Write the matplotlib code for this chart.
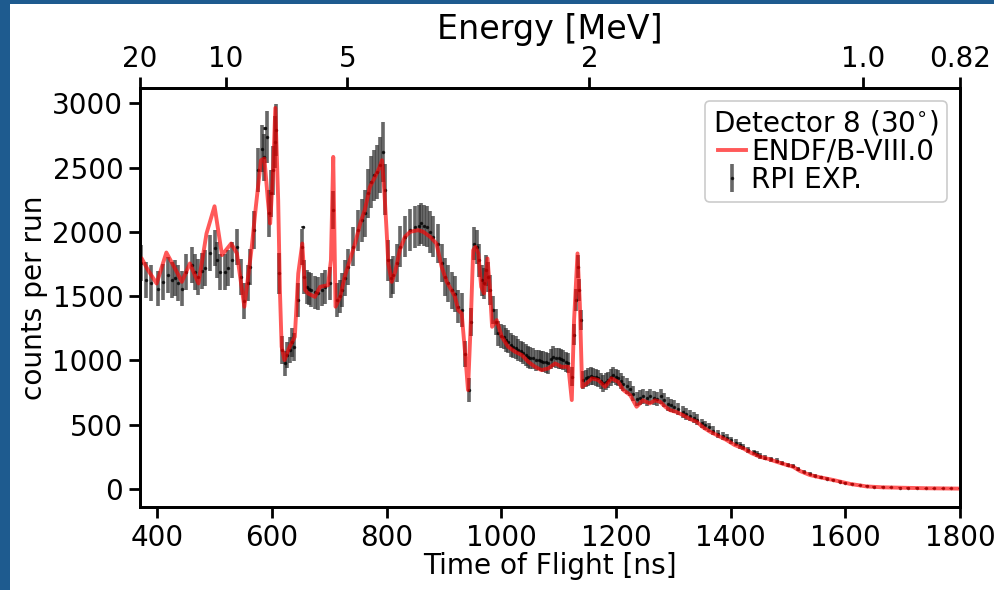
import numpy as np
import matplotlib
matplotlib.use('Agg')
import matplotlib.pyplot as plt
from matplotlib.patches import Rectangle

# ENDF/B-VIII.0 calculated curve (time of flight [ns], counts per run)
endf_t = [370, 373, 384, 399, 416, 431, 443, 457, 472, 486, 500, 513, 529, 539, 552, 565,
          572, 581, 587, 593, 597, 602, 606, 611, 614, 617, 622, 631, 640, 646, 653, 658,
          663, 675, 684, 698, 703, 707, 711, 719, 727, 736, 745, 754, 762, 771, 780, 788,
          792, 796, 800, 803, 809, 815, 823, 832, 841, 855, 864, 876, 887, 896, 905, 913,
          919, 925, 931, 937, 942, 947, 951, 955, 960, 965, 970, 976, 980, 984, 992, 1001,
          1012, 1024, 1036, 1047, 1059, 1070, 1082, 1094, 1105, 1117, 1123, 1127, 1133, 1137, 1141, 1149,
          1158, 1169, 1181, 1192, 1204, 1213, 1225, 1236, 1247, 1259, 1268, 1277, 1286, 1294, 1305, 1317,
          1329, 1341, 1352, 1364, 1378, 1393, 1407, 1422, 1436, 1451, 1465, 1480, 1492, 1509, 1521, 1538,
          1556, 1579, 1608, 1637, 1665, 1695, 1740, 1800]
endf_c = [1800, 1794, 1703, 1599, 1840, 1716, 1612, 1755, 1599, 1988, 2200, 1820, 1910, 1833, 1418, 1885,
          2195, 2558, 2571, 2247, 2066, 2455, 2965, 2247, 1547, 1107, 1003, 1107, 1184, 1677, 1910, 1547,
          1522, 1495, 1573, 1586, 1781, 2584, 1418, 1495, 1651, 1781, 1910, 2066, 2170, 2351, 2429, 2506,
          2558, 2325, 2014, 1755, 1612, 1690, 1858, 1962, 2001, 2014, 2001, 1962, 1910, 1729, 1612, 1547,
          1500, 1392, 1366, 1055, 770, 1314, 1858, 1884, 1833, 1573, 1522, 1794, 1573, 1262, 1314, 1184,
          1107, 1068, 1042, 990, 951, 925, 938, 977, 951, 951, 692, 1314, 1833, 1444, 795, 822,
          861, 848, 795, 861, 834, 770, 730, 640, 690, 666, 690, 679, 640, 614, 600, 575,
          545, 523, 480, 446, 415, 381, 342, 316, 280, 251, 235, 212, 195, 173, 140, 109,
          91, 70, 40, 20, 13, 10, 6, 3]

# RPI experimental data (time of flight [ns], counts per run, uncertainty)
exp_t = [372, 381, 390, 402, 411, 419, 425, 431, 437, 443, 451, 460, 466, 472, 478, 483,
         492, 500, 505, 510, 518, 524, 530, 539, 546, 552, 558, 562, 569, 576, 582, 586,
         588, 591, 595, 599, 602, 606, 608, 612, 617, 623, 627, 631, 635, 639, 646, 652,
         655, 656, 661, 665, 669, 675, 681, 687, 693, 701, 707, 713, 718, 722, 728, 733,
         742, 751, 757, 762, 768, 773, 778, 783, 788, 793, 798, 803, 808, 812, 818, 823,
         832, 841, 850, 856, 860, 866, 870, 876, 881, 890, 896, 902, 908, 914, 920, 925,
         931, 937, 943, 948, 952, 958, 962, 966, 970, 973, 977, 980, 986, 990, 995, 1000,
         1004, 1008, 1012, 1017, 1021, 1026, 1030, 1034, 1038, 1043, 1047, 1051, 1056, 1060, 1065, 1069,
         1073, 1078, 1082, 1087, 1091, 1095, 1100, 1104, 1108, 1113, 1117, 1123, 1127, 1130, 1133, 1136,
         1139, 1143, 1148, 1152, 1156, 1160, 1165, 1169, 1174, 1178, 1182, 1187, 1191, 1195, 1200, 1204,
         1209, 1213, 1219, 1225, 1230, 1236, 1242, 1248, 1254, 1260, 1266, 1272, 1278, 1284, 1290, 1296,
         1302, 1309, 1317, 1323, 1330, 1336, 1342, 1350, 1356, 1362, 1370, 1378, 1386, 1393, 1401, 1410,
         1416, 1422, 1430, 1440, 1446, 1451, 1460, 1470, 1480, 1490, 1500, 1509, 1518, 1528, 1538, 1548,
         1558, 1568, 1579, 1590, 1600, 1612, 1625, 1637, 1650, 1665, 1680, 1695, 1710, 1725, 1740, 1755,
         1770, 1785, 1800]
exp_c = [1755, 1625, 1599, 1560, 1612, 1664, 1630, 1638, 1600, 1560, 1690, 1742, 1690, 1651, 1700, 1716,
         1833, 1872, 1780, 1690, 1690, 1720, 1781, 1885, 1651, 1460, 1600, 1729, 2014, 2480, 2649, 2580,
         2805, 2740, 2144, 2300, 2480, 2700, 2792, 1677, 1081, 977, 1040, 1081, 1140, 1107, 1470, 1885,
         2040, 1650, 1573, 1560, 1547, 1530, 1522, 1550, 1573, 1599, 2170, 1470, 1500, 1547, 1640, 1729,
         1885, 2014, 2090, 2144, 2300, 2390, 2440, 2468, 2520, 2623, 2330, 1781, 1640, 1664, 1760, 1885,
         1962, 2014, 2040, 2050, 2066, 2050, 2040, 2000, 1962, 1910, 1760, 1651, 1600, 1547, 1520, 1418,
         1392, 1050, 770, 1300, 1910, 1884, 1780, 1625, 1600, 1703, 1650, 1547, 1392, 1300, 1210, 1190,
         1184, 1160, 1146, 1120, 1107, 1100, 1081, 1070, 1055, 1045, 1029, 1020, 1016, 1000, 1003, 995,
         990, 985, 977, 1010, 1029, 1020, 1016, 1010, 1003, 990, 977, 873, 1200, 1470, 1729, 1550,
         1314, 848, 860, 873, 880, 873, 870, 861, 840, 822, 835, 848, 870, 886, 870, 861,
         840, 820, 800, 780, 740, 700, 710, 720, 705, 720, 710, 700, 720, 690, 660, 650,
         640, 620, 600, 585, 570, 555, 540, 510, 495, 480, 455, 430, 415, 400, 380, 360,
         340, 325, 305, 285, 270, 258, 245, 232, 220, 200, 188, 178, 155, 135, 120, 102,
         90, 80, 70, 58, 48, 38, 28, 22, 17, 14, 12, 10, 8, 7, 6, 5,
         5, 4, 4]
exp_err = [140, 140, 140, 140, 140, 140, 140, 140, 140, 140, 140, 140, 140, 140, 140, 140,
           140, 140, 140, 140, 140, 140, 140, 140, 140, 140, 140, 140, 150, 170, 180, 180,
           10, 200, 180, 180, 190, 200, 200, 160, 110, 100, 100, 100, 110, 110, 130, 140,
           10, 130, 130, 130, 130, 130, 130, 130, 130, 130, 150, 130, 130, 130, 140, 140,
           150, 160, 170, 180, 190, 200, 200, 210, 220, 233, 200, 160, 150, 150, 150, 160,
           160, 163, 163, 163, 163, 160, 160, 160, 160, 155, 150, 150, 145, 145, 140, 130,
           130, 100, 90, 110, 130, 130, 130, 120, 120, 120, 115, 115, 110, 100, 100, 95,
           95, 95, 90, 90, 90, 90, 85, 85, 85, 85, 85, 85, 80, 80, 80, 80,
           80, 80, 80, 80, 80, 80, 80, 78, 78, 78, 78, 75, 80, 85, 90, 85,
           80, 70, 68, 68, 68, 66, 66, 66, 65, 65, 65, 65, 65, 65, 62, 62,
           62, 60, 60, 60, 58, 58, 58, 58, 56, 56, 56, 55, 55, 54, 54, 52,
           50, 48, 46, 45, 44, 42, 40, 38, 36, 35, 34, 32, 30, 30, 28, 27,
           26, 25, 24, 22, 22, 21, 20, 19, 18, 17, 16, 15, 14, 13, 12, 11,
           10, 10, 9, 9, 8, 8, 7, 7, 6, 6, 6, 6, 6, 6, 5, 5,
           5, 5, 5]

# Top axis: neutron energy ticks [MeV]
energy_ticks = [20, 10, 5, 2, 1.0, 0.82]
energy_labels = ['20', '10', '5', '2', '1.0', '0.82']

MN = 939.565      # neutron mass [MeV]
C_LIGHT = 0.299792458  # m/ns


def beta(E):
    g = 1.0 + np.asarray(E, dtype=float) / MN
    return np.sqrt(1.0 - 1.0 / g**2)


FLIGHT_PATH = beta(0.82) * C_LIGHT * 1800.0


def tof(E):
    return FLIGHT_PATH / (beta(E) * C_LIGHT)


plt.rcParams['font.family'] = ['DejaVu Sans']

fig = plt.figure(figsize=(9.95, 5.9), dpi=100)
fig.patch.set_facecolor('#1e5b8f')
fig.patches.append(Rectangle((10 / 995, 0), 1, 586 / 590, transform=fig.transFigure,
                             facecolor='white', edgecolor='none', zorder=-5))

ax = fig.add_axes([140 / 995, 83 / 590, 820 / 995, 419 / 590])
ax.set_facecolor('white')

ax.errorbar(exp_t, exp_c, yerr=exp_err, fmt='.', color='black', ms=3,
            ecolor=(0.15, 0.15, 0.15, 0.6), elinewidth=2.6, capsize=0,
            alpha=0.7, label='RPI EXP.', zorder=2)
ax.plot(endf_t, endf_c, color='red', lw=2.8, alpha=0.65, label='ENDF/B-VIII.0', zorder=3)

xmin = float(tof(20))
ax.set_xlim(xmin, 1800)
ax.set_ylim(-140, 3120)
ax.set_xticks([400, 600, 800, 1000, 1200, 1400, 1600, 1800])
ax.set_yticks([0, 500, 1000, 1500, 2000, 2500, 3000])
ax.set_xlabel('Time of Flight [ns]', fontsize=20.2, labelpad=0)
ax.set_ylabel('counts per run', fontsize=20.2, labelpad=3)
ax.tick_params(axis='both', labelsize=20, width=2, length=8, direction='out', pad=4)
for s in ax.spines.values():
    s.set_linewidth(2)

ax2 = ax.twiny()
ax2.set_xlim(ax.get_xlim())
ax2.set_xticks([float(tof(e)) for e in energy_ticks])
ax2.set_xticklabels(energy_labels)
ax2.tick_params(axis='x', labelsize=20, width=2, length=8, direction='out', pad=3)
ax2.set_xlabel('Energy [MeV]', fontsize=24, labelpad=4)
for s in ax2.spines.values():
    s.set_linewidth(2)

handles, labels = ax.get_legend_handles_labels()
order = [labels.index('ENDF/B-VIII.0'), labels.index('RPI EXP.')]
leg = ax.legend([handles[i] for i in order], [labels[i] for i in order],
                title='Detector 8 (30$^{\\circ}$)', loc='upper right', fontsize=20,
                title_fontsize=20, handlelength=1.0, handletextpad=0.2,
                labelspacing=0.0, borderpad=0.3, borderaxespad=0.45, frameon=True,
                fancybox=True, edgecolor='#cccccc', framealpha=1.0)
leg.get_frame().set_linewidth(1.2)

fig.savefig('out.png', dpi=100, facecolor=fig.get_facecolor())
